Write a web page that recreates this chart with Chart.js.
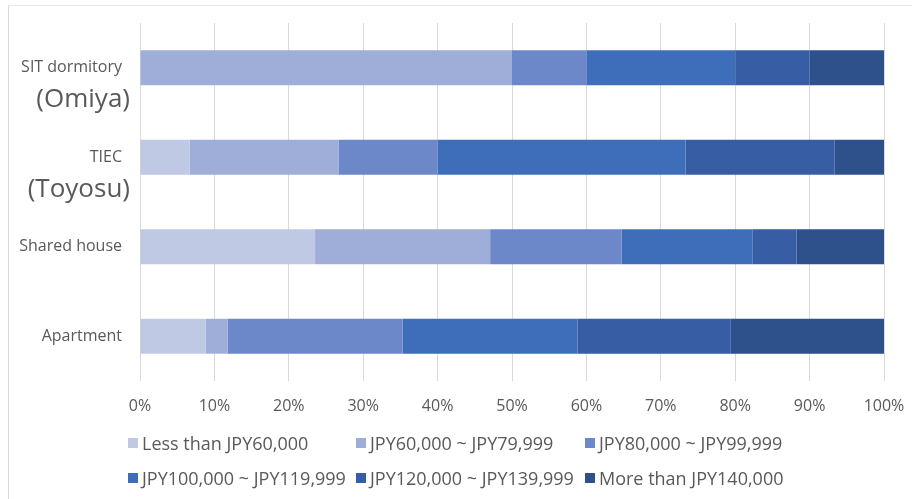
<!DOCTYPE html>
<html>
<head>
<meta charset="utf-8">
<script src="https://cdn.jsdelivr.net/npm/chart.js@4"></script>
<style>
  html, body { margin: 0; padding: 0; background: #fff; }
  #wrap { position: relative; width: 912px; height: 499px; overflow: hidden; }
  #frame { position: absolute; left: 8px; top: 5px; width: 920px; height: 520px; border-left: 1px solid #d9d9d9; border-top: 1px solid #e6e6e6; box-sizing: border-box; }
  canvas { position: absolute; left: 0; top: 0; }
  #legend { position: absolute; left: 0; top: 0; width: 912px; height: 499px; pointer-events: none; font-family: "Open Sans", sans-serif; font-size: 18px; color: #595959; }
  .item { position: absolute; height: 24px; line-height: 24px; white-space: nowrap; }
  .box { position: absolute; left: 0; top: 7px; width: 10px; height: 10px; }
  .txt { position: absolute; left: 14px; top: 0; }
</style>
</head>
<body>
<div id="wrap">
  <div id="frame"></div>
  <canvas id="c" width="912" height="499"></canvas>
  <div id="legend"></div>
</div>
<script>
// ---- data ----
const categories = ['SIT dormitory', 'TIEC', 'Shared house', 'Apartment'];
const subLabels = ['(Omiya)', '(Toyosu)', '', ''];
const seriesNames = [
  'Less than JPY60,000',
  'JPY60,000 ~ JPY79,999',
  'JPY80,000 ~ JPY99,999',
  'JPY100,000 ~ JPY119,999',
  'JPY120,000 ~ JPY139,999',
  'More than JPY140,000'
];
const lessThan60k   = [0,     6.67, 23.53, 8.82];
const from60kTo80k  = [50,   20.00, 23.53, 2.94];
const from80kTo100k = [10,   13.33, 17.65, 23.53];
const from100kTo120k= [20,   33.33, 17.65, 23.53];
const from120kTo140k= [10,   20.00, 5.88, 20.59];
const moreThan140k  = [10,    6.67, 11.76, 20.59];
const xTicks = [0, 10, 20, 30, 40, 50, 60, 70, 80, 90, 100];

const seriesValues = [lessThan60k, from60kTo80k, from80kTo100k, from100kTo120k, from120kTo140k, moreThan140k];
const colors = ['#c0c9e4', '#9faed9', '#6d88c9', '#3e6eba', '#375ea5', '#2e518b'];

const textColor = '#595959';
const fontFamily = '"Open Sans", sans-serif';

const subLabelPlugin = {
  id: 'subLabels',
  afterDraw(chart) {
    const ctx = chart.ctx;
    const y = chart.scales.y;
    ctx.save();
    ctx.fillStyle = textColor;
    ctx.font = '26px ' + fontFamily;
    ctx.textAlign = 'right';
    ctx.textBaseline = 'middle';
    subLabels.forEach((s, i) => {
      if (s) ctx.fillText(s, 130, y.getPixelForValue(i) + 32);
    });
    ctx.restore();
  }
};

new Chart(document.getElementById('c'), {
  type: 'bar',
  data: {
    labels: categories,
    datasets: seriesValues.map((vals, i) => ({
      label: seriesNames[i],
      data: vals,
      backgroundColor: colors[i],
      borderWidth: 0,
      categoryPercentage: 1,
      barPercentage: 0.39
    }))
  },
  options: {
    indexAxis: 'y',
    responsive: false,
    animation: false,
    layout: { padding: { left: 0, right: 28, top: 23, bottom: 78 } },
    plugins: {
      legend: { display: false },
      tooltip: { enabled: false }
    },
    scales: {
      x: {
        stacked: true,
        min: 0, max: 100,
        afterBuildTicks(scale) { scale.ticks = xTicks.map(v => ({ value: v })); },
        afterFit(scale) { scale.height = 40; scale.paddingLeft = 0; scale.paddingRight = 0; },
        grid: { color: '#d9d9d9', lineWidth: 1, drawTicks: false },
        border: { display: false },
        ticks: {
          padding: 16,
          color: textColor,
          font: { family: fontFamily, size: 16 },
          callback: v => v + '%'
        }
      },
      y: {
        stacked: true,
        afterFit(scale) { scale.width = 140; scale.paddingTop = 0; scale.paddingBottom = 0; },
        grid: { display: false, drawTicks: false },
        border: { display: false },
        ticks: {
          padding: 18,
          color: textColor,
          font: { family: fontFamily, size: 16 }
        }
      }
    }
  },
  plugins: [subLabelPlugin]
});

// ---- legend (HTML, column-aligned like the original) ----
const legend = document.getElementById('legend');
const colX = [128, 356, 585];
const rowY = [431, 466];
seriesNames.forEach((name, i) => {
  const it = document.createElement('div');
  it.className = 'item';
  it.style.left = colX[i % 3] + 'px';
  it.style.top = rowY[Math.floor(i / 3)] + 'px';
  const b = document.createElement('div');
  b.className = 'box';
  b.style.background = colors[i];
  const t = document.createElement('span');
  t.className = 'txt';
  t.textContent = name;
  it.appendChild(b);
  it.appendChild(t);
  legend.appendChild(it);
});
</script>
</body>
</html>
